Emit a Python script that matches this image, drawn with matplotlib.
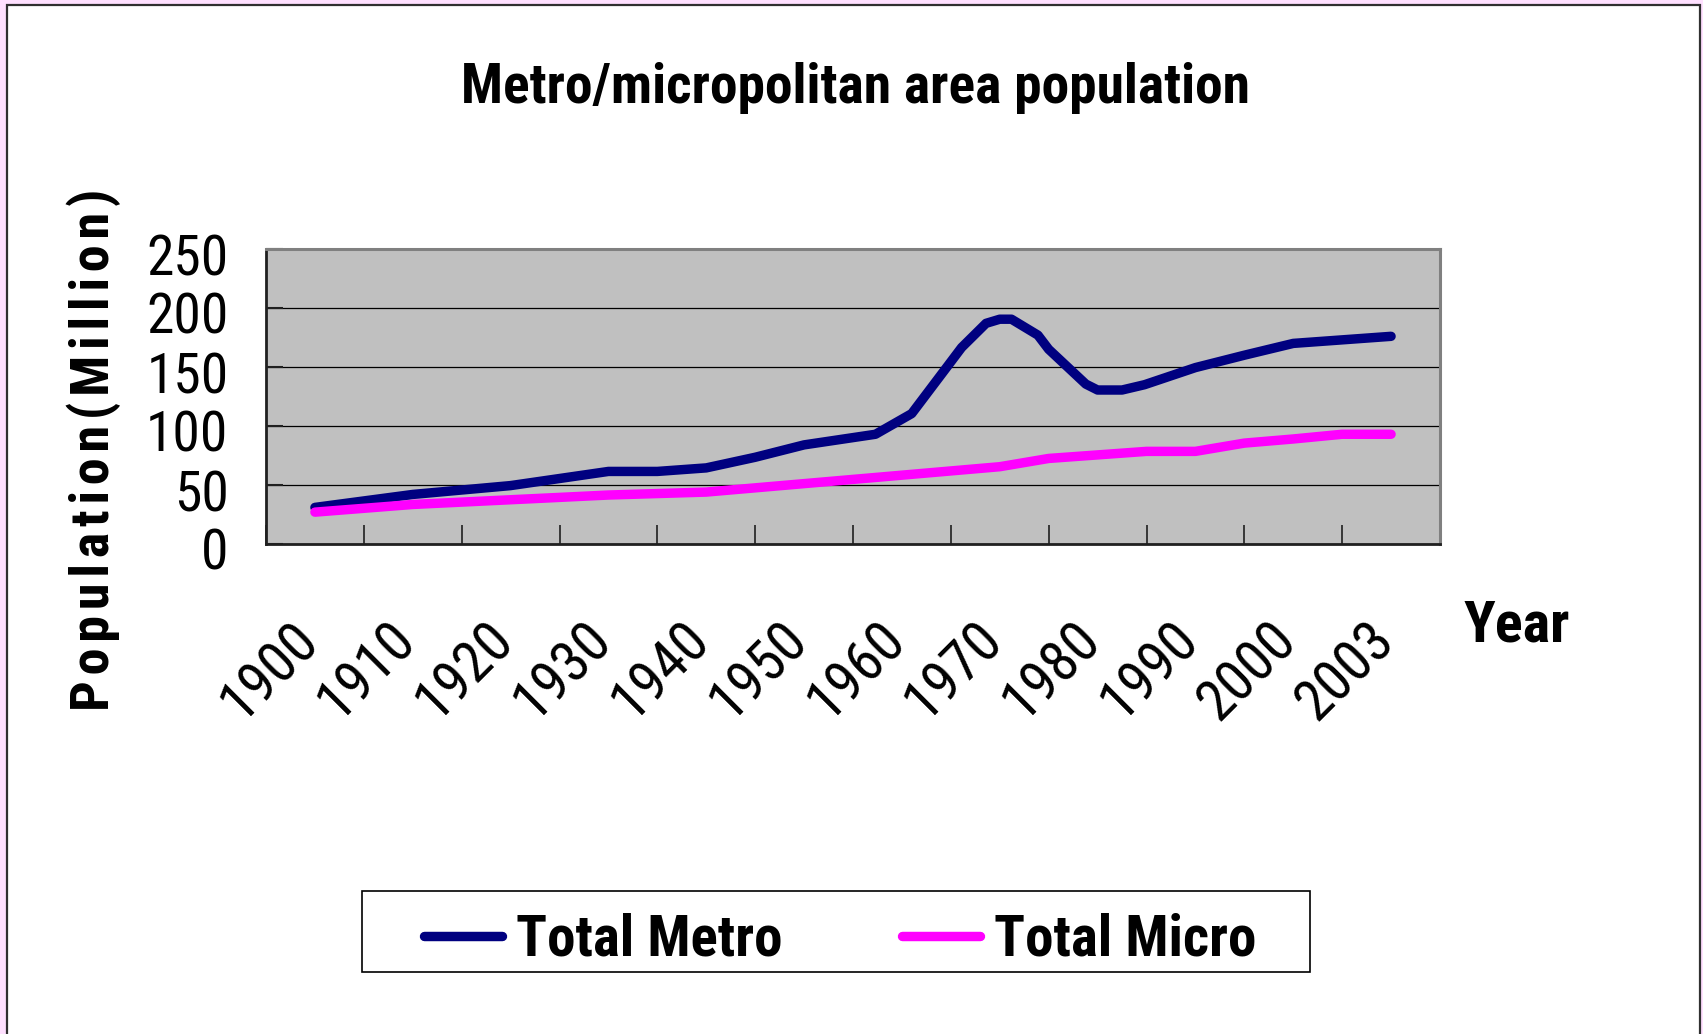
import matplotlib
matplotlib.use("Agg")
import matplotlib.pyplot as plt
from matplotlib.patches import Rectangle
from matplotlib.transforms import ScaledTranslation
from matplotlib import font_manager
import numpy as np

# data (x in category units, 0 = 1900 ... 11 = 2003)
years = ['1900', '1910', '1920', '1930', '1940', '1950', '1960', '1970',
         '1980', '1990', '2000', '2003']
metro_x = [0, 1, 2, 3, 3.5, 4, 4.5, 5, 5.73, 6.1, 6.46, 6.61, 6.86, 7, 7.12,
           7.39, 7.5, 7.88, 8, 8.25, 8.48, 9, 9.5, 10, 10.5, 11]
metro_y = [31, 42, 49.5, 61.5, 61.5, 64.5, 73.5, 84, 93, 110.5, 150, 166.5,
           187, 190.5, 190.5, 177, 165, 135.5, 130.5, 130.5, 135, 149.5, 160,
           170, 173, 176]
micro_x = [0, 1, 3, 4, 7, 7.5, 8.5, 9, 9.5, 10, 10.5, 11]
micro_y = [27, 33.5, 41.5, 44, 65.5, 72.5, 78.5, 78.5, 85.5, 89, 93, 93]

# the original uses a narrow font; take a condensed one if there is any
ttf = font_manager.fontManager.ttflist
names = {f.name for f in ttf}
family, stretch, k = 'Liberation Sans', 'normal', 0.8
for cand in ['Liberation Sans Narrow', 'Arial Narrow', 'Roboto Condensed',
             'Noto Sans Condensed', 'Open Sans Condensed', 'DejaVu Sans Condensed']:
    if cand in names:
        family, k = cand, 1.0
        break
else:
    for base in ['Roboto', 'Noto Sans', 'Open Sans', 'DejaVu Sans']:
        if any(f.name == base and 'condensed' in str(f.stretch) for f in ttf):
            family, stretch, k = base, 'condensed', 1.0
            break
plt.rcParams['font.family'] = [family, 'DejaVu Sans']
plt.rcParams['font.stretch'] = stretch

W, H = 1703, 1034
fig = plt.figure(figsize=(W / 100, H / 100), dpi=100)
fig.patch.set_facecolor('#FFE0FF')
fig.patches.append(Rectangle((7 / W, -0.02), (1700 - 7) / W, (1029 / H) + 0.02,
                             transform=fig.transFigure, facecolor='white',
                             edgecolor='#303030', lw=1.6, zorder=-5))

ax = fig.add_axes([266 / W, 1 - 544 / H, (1440 - 266) / W, (544 - 249) / H])
ax.set_facecolor('#C0C0C0')

l1, = ax.plot(metro_x, metro_y, color='#000080', lw=6.8,
              solid_capstyle='round', solid_joinstyle='round', zorder=3)
l2, = ax.plot(micro_x, micro_y, color='#FF00FF', lw=6.8,
              solid_capstyle='round', solid_joinstyle='round', zorder=3)

ax.set_xlim(-0.5, 11.5)
ax.set_ylim(0, 250)
ax.set_yticks(np.arange(0, 251, 50))
ax.yaxis.grid(True, color='black', lw=0.9)
ax.set_axisbelow(True)
ax.tick_params(axis='y', direction='in', length=12, width=1.5, pad=27,
               labelsize=40 * k, color='#202020')
for lab in ax.get_yticklabels():
    lab.set_transform(lab.get_transform() + ScaledTranslation(0, -0.05, fig.dpi_scale_trans))

ax.set_xticks(range(len(years)))
ax.set_xticklabels(years, rotation=45, ha='right', va='top')
ax.tick_params(axis='x', which='major', length=0, pad=49, labelsize=41 * k)
for lab in ax.get_xticklabels():
    lab.set_transform(lab.get_transform() + ScaledTranslation(0.14, 0, fig.dpi_scale_trans))
ax.set_xticks(np.arange(-0.5, 12, 1), minor=True)
ax.tick_params(axis='x', which='minor', direction='in', length=14, width=1.2,
               color='#202020')

for s in ['left', 'bottom']:
    ax.spines[s].set_color('#202020')
    ax.spines[s].set_linewidth(2)
for s in ['top', 'right']:
    ax.spines[s].set_color('#808080')
    ax.spines[s].set_linewidth(2.2)

fig.text(855 / W, 1 - 103 / H, 'Metro/micropolitan area population',
         ha='center', va='baseline', fontsize=40 * k, weight='bold')
fig.text(1464 / W, 1 - 641 / H, 'Year', ha='left', va='baseline',
         fontsize=42 * k, weight='bold')

# y label, letter spaced
fig.text(94 / W, 1 - 711 / H, '\u200a'.join('Population(Million)'),
         rotation=90, ha='center', va='bottom', fontsize=39 * k, weight='bold')

fig.legend([l1, l2], ['Total Metro', 'Total Micro'], loc='center',
           bbox_to_anchor=(840 / W, 1 - 940 / H), ncol=2, frameon=False,
           prop={'size': 41 * k, 'weight': 'bold'}, handlelength=1.37 / k,
           handletextpad=0.25 / k, columnspacing=2.1 / k)
fig.patches.append(Rectangle((362 / W, 1 - 972 / H), (1310 - 362) / W, 81 / H,
                             transform=fig.transFigure, fill=False,
                             edgecolor='black', lw=1.2, zorder=1))

fig.savefig('out.png', dpi=100, facecolor=fig.get_facecolor())
